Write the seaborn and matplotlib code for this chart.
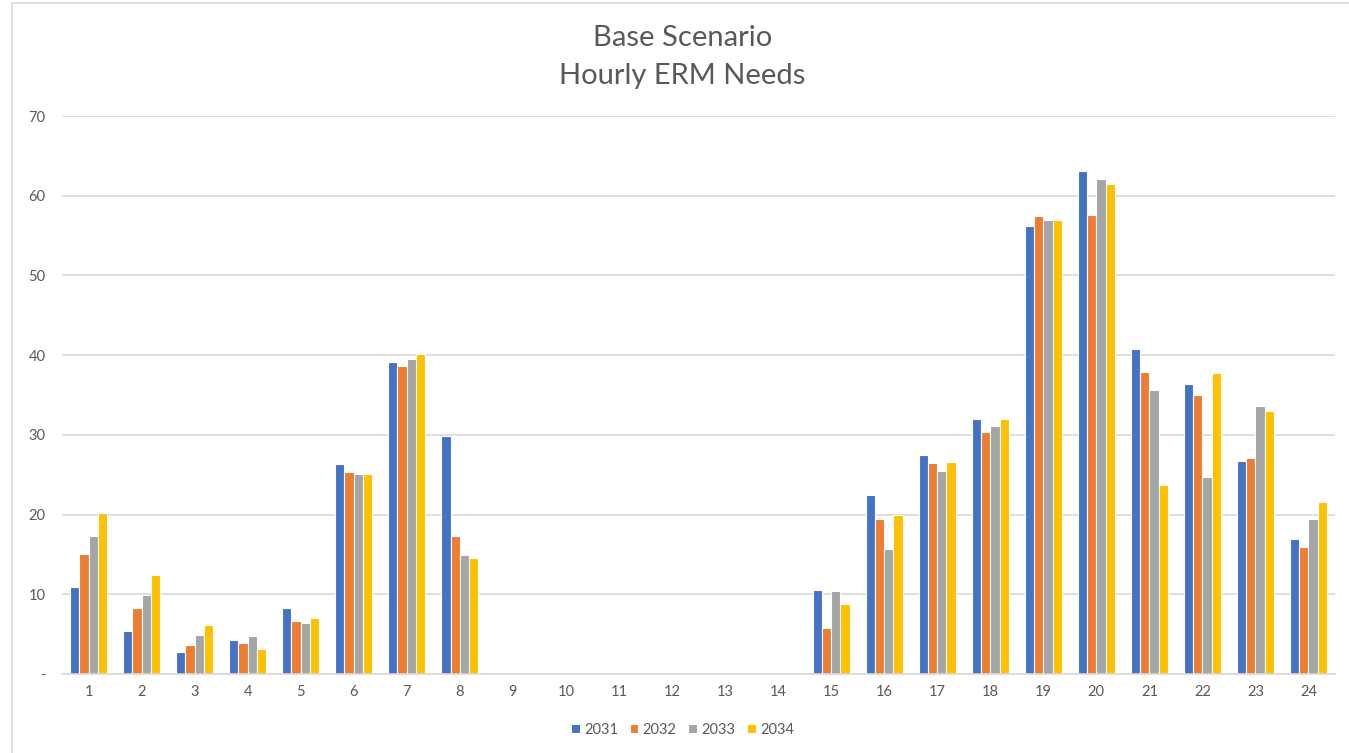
import matplotlib.pyplot as plt
import matplotlib.patches as mpatches
import pandas as pd
import seaborn as sns

hours = list(range(1, 25))
years = ["2031", "2032", "2033", "2034"]
needs_2031 = [10.9, 5.4, 2.8, 4.3, 8.3, 26.3, 39.2, 29.8, 0, 0, 0, 0, 0, 0,
              10.6, 22.4, 27.5, 32.0, 56.2, 63.1, 40.8, 36.4, 26.7, 16.9]
needs_2032 = [15.1, 8.3, 3.7, 3.9, 6.7, 25.4, 38.7, 17.3, 0, 0, 0, 0, 0, 0,
              5.8, 19.5, 26.5, 30.4, 57.4, 57.6, 37.9, 35.0, 27.1, 15.9]
needs_2033 = [17.3, 9.9, 4.9, 4.8, 6.4, 25.1, 39.5, 14.9, 0, 0, 0, 0, 0, 0,
              10.4, 15.7, 25.5, 31.1, 56.9, 62.1, 35.6, 24.7, 33.6, 19.5]
needs_2034 = [20.2, 12.4, 6.1, 3.1, 7.0, 25.1, 40.2, 14.6, 0, 0, 0, 0, 0, 0,
              8.8, 19.9, 26.6, 32.0, 56.9, 61.5, 23.7, 37.7, 33.0, 21.6]
y_ticks = [0, 10, 20, 30, 40, 50, 60, 70]
y_labels = ["-", "10", "20", "30", "40", "50", "60", "70"]

colors = ["#4472C4", "#ED7D31", "#A5A5A5", "#FFC000"]
text_color = "#595959"


def main():
    wide = pd.DataFrame({"hour": hours, "2031": needs_2031, "2032": needs_2032,
                         "2033": needs_2033, "2034": needs_2034})
    data = pd.melt(wide, id_vars=["hour"], var_name="year", value_name="need")

    sns.set_style("white")
    plt.rcParams['font.family'] = ['Lato', 'DejaVu Sans']

    fig = plt.figure(figsize=(13.49, 7.53), dpi=100)
    ax = fig.add_axes([62 / 1349, 1 - 674 / 753, (1335 - 62) / 1349, (674 - 116) / 753])

    sns.barplot(data=data, x="hour", y="need", hue="year", hue_order=years,
                palette=colors, saturation=1, width=0.7, edgecolor="white",
                linewidth=0.8, ax=ax, legend=True)

    ax.set_ylim(0, 70)
    ax.set_yticks(y_ticks)
    ax.set_yticklabels(y_labels)
    ax.yaxis.grid(True, color="#D9D9D9", linewidth=1.2)
    ax.set_axisbelow(True)
    for side in ["left", "right", "top"]:
        ax.spines[side].set_visible(False)
    ax.spines["bottom"].set_color("#D9D9D9")
    ax.spines["bottom"].set_linewidth(1.2)
    ax.tick_params(axis="both", length=0, colors=text_color, labelsize=10.5)
    ax.tick_params(axis="y", pad=12)
    ax.tick_params(axis="x", pad=8)
    ax.set_xlabel("")
    ax.set_ylabel("")

    fig.text(0.506, 1 - 38 / 753, "Base Scenario", ha="center", va="center",
             fontsize=21, color=text_color)
    fig.text(0.506, 1 - 76 / 753, "Hourly ERM Needs", ha="center", va="center",
             fontsize=21, color=text_color)

    handles, labels = ax.get_legend_handles_labels()
    ax.legend_.remove()
    fig.legend(handles, labels, loc="center", bbox_to_anchor=(0.506, 1 - 730 / 753),
               ncol=4, frameon=False, fontsize=10.5, labelcolor=text_color,
               handlelength=0.6, handleheight=0.6, handletextpad=0.3,
               columnspacing=0.8)

    # light frame around the chart
    fig.patches.append(mpatches.Rectangle((12 / 1349, -0.01), 1.0, 1 - 3 / 753 + 0.01,
                                          transform=fig.transFigure, fill=False,
                                          edgecolor="#D9D9D9", linewidth=1.2))

    fig.savefig("out.png", dpi=100)


if __name__ == "__main__":
    main()
